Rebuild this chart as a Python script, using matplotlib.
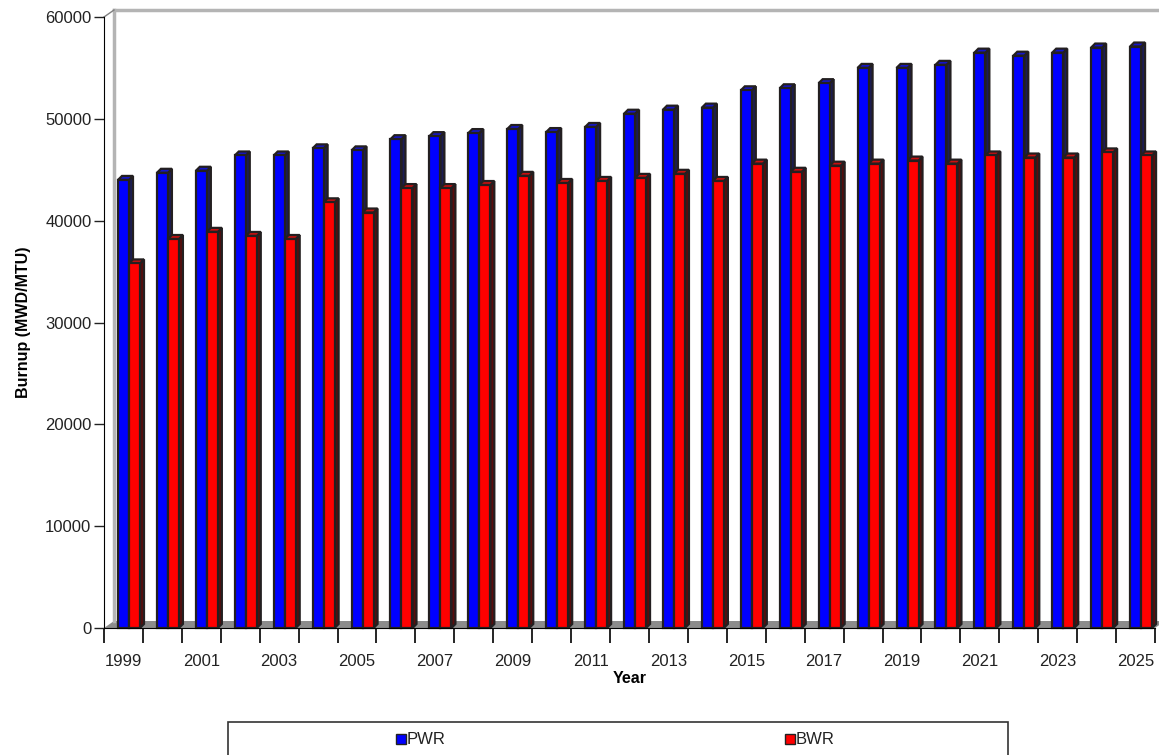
import numpy as np
import matplotlib.pyplot as plt
from matplotlib.patches import Polygon, Rectangle

plt.rcParams['font.family'] = ['Liberation Sans', 'DejaVu Sans']

years = list(range(1999, 2026))
pwr = [44000, 44700, 44900, 46400, 46400, 47100, 46900, 48000, 48300, 48600,
       49000, 48700, 49200, 50500, 50900, 51100, 52800, 53000, 53500, 55000,
       55000, 55300, 56500, 56200, 56500, 57000, 57100]
bwr = [35800, 38200, 38900, 38500, 38200, 41800, 40800, 43200, 43200, 43500,
       44400, 43700, 43900, 44200, 44600, 43900, 45600, 44800, 45400, 45600,
       45900, 45600, 46400, 46200, 46200, 46700, 46400]

W, H = 1159, 755
fig = plt.figure(figsize=(W / 100, H / 100), dpi=100)
ax = fig.add_axes([104 / W, 1 - 628 / H, 1051 / W, 611 / H])
ax.set_xlim(-0.5, len(years) - 0.5)
ax.set_ylim(0, 60000)

# pixel -> data conversions
px_x = (len(years)) / 1051.0
px_y = 60000 / 611.0

# 3D floor and walls
fdx, fdy = 10 * px_x, 7 * px_y
x0, x1 = -0.5, len(years) - 0.5
floor = Polygon([(x0, 0), (x1, 0), (x1 + fdx, fdy), (x0 + fdx, fdy)],
                closed=True, facecolor='#8c8c8c', edgecolor='none', clip_on=False, zorder=1)
ax.add_patch(floor)
ax.plot([x0 + fdx, x0 + fdx], [fdy, 60000 + fdy], color='#b4b4b4', lw=2.5, clip_on=False, zorder=1)
ax.plot([x0 + fdx, x1 + 1], [60000 + fdy, 60000 + fdy], color='#b4b4b4', lw=2.5, clip_on=False, zorder=1)
ax.plot([x0, x0 + fdx], [60000, 60000 + fdy], color='#808080', lw=1, clip_on=False, zorder=1)

# 3D bars
bdx, bdy = 4 * px_x, 4 * px_y
bw = 11 * px_x
edge = '#231f20'
series = [
    (pwr, 14 * px_x, '#0000ff', '#1c1c55', '#1515c8'),
    (bwr, 14 * px_x + bw, '#ff0000', '#5a0c0c', '#c81010'),
]
for i in range(len(years)):
    for vals, off, cf, cs, ct in series:
        h = vals[i]
        xl = i - 0.5 + off
        xr = xl + bw
        side = Polygon([(xr, 0), (xr + bdx, bdy), (xr + bdx, h + bdy), (xr, h)],
                       closed=True, facecolor=cs, edgecolor=edge, lw=1.6, zorder=3, clip_on=False)
        top = Polygon([(xl, h), (xl + bdx, h + bdy), (xr + bdx, h + bdy), (xr, h)],
                      closed=True, facecolor=ct, edgecolor=edge, lw=1.6, zorder=3, clip_on=False)
        front = Rectangle((xl, 0), bw, h, facecolor=cf, edgecolor=edge, lw=1.6, zorder=4, clip_on=False)
        ax.add_patch(side)
        ax.add_patch(top)
        ax.add_patch(front)

# axes styling
for s in ['top', 'right']:
    ax.spines[s].set_visible(False)
ax.spines['left'].set_zorder(6)
ax.spines['bottom'].set_zorder(6)
ax.set_yticks(np.arange(0, 60001, 10000))
ax.tick_params(axis='y', length=7, width=1, labelsize=12, colors='#222222', pad=2)
ax.set_xticks(np.arange(-0.5, len(years), 1.0))
ax.set_xticklabels([])
ax.tick_params(axis='x', which='major', length=11, width=1.2)
ax.set_xticks(np.arange(0, len(years), 2), minor=True)
ax.set_xticklabels([str(y) for y in years[::2]], minor=True)
ax.tick_params(axis='x', which='minor', length=0, labelsize=12, colors='#222222', pad=19)

ax.set_ylabel('Burnup (MWD/MTU)', fontsize=11.5, fontweight='bold', labelpad=10)
ax.set_xlabel('Year', fontsize=11.5, fontweight='bold', labelpad=1)

# legend box
lx0, lx1, ly = 228, 1008, 722
fig.patches.append(Rectangle((lx0 / W, -0.05), (lx1 - lx0) / W, 1 - ly / H + 0.05,
                             transform=fig.transFigure, facecolor='white',
                             edgecolor='#333333', lw=1.2))
for label, color, cx in [('PWR', '#0000ff', 396), ('BWR', '#ff0000', 785)]:
    fig.patches.append(Rectangle((cx / W, 1 - 744 / H), 10 / W, 10 / H,
                                 transform=fig.transFigure, facecolor=color,
                                 edgecolor='#222222', lw=1))
    fig.text((cx + 11) / W, 1 - 739 / H, label, fontsize=12, va='center', ha='left', color='#222222')

fig.savefig('out.png', dpi=100)
